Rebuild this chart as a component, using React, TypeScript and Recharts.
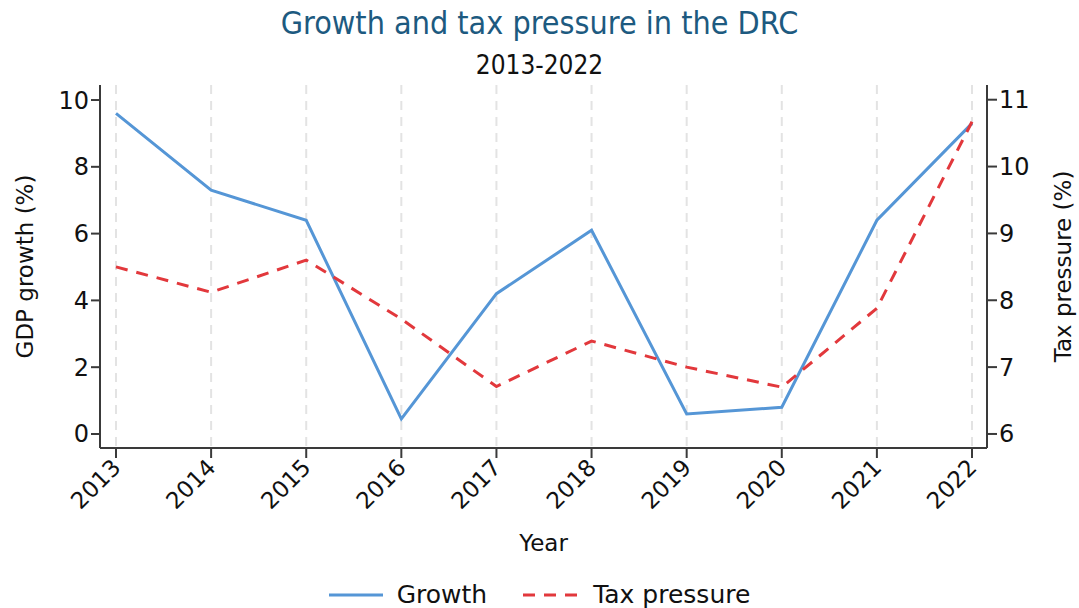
import {
  CartesianGrid,
  Legend,
  Line,
  LineChart,
  XAxis,
  YAxis,
} from 'recharts'

const YEARS = [2013, 2014, 2015, 2016, 2017, 2018, 2019, 2020, 2021, 2022]
const GROWTH = [9.6, 7.3, 6.4, 0.45, 4.2, 6.1, 0.6, 0.8, 6.4, 9.3]
const TAX_PRESSURE = [8.5, 8.12, 8.6, 7.72, 6.71, 7.39, 7.0, 6.7, 7.88, 10.67]
const LEFT_TICKS = [0, 2, 4, 6, 8, 10]
const RIGHT_TICKS = [6, 7, 8, 9, 10, 11]

const data = YEARS.map((year, i) => ({
  year,
  growth: GROWTH[i],
  tax: TAX_PRESSURE[i],
}))

const FONT = '"DejaVu Sans", sans-serif'
const COND = '"DejaVu Sans Condensed", "DejaVu Sans", sans-serif'
const AXIS_COLOR = '#3a3a3a'
const BLUE = '#5596d6'
const RED = '#e2383c'

type TickProps = { x?: number; y?: number; payload?: { value: number } }

function YearTick({ x = 0, y = 0, payload }: TickProps) {
  return (
    <g transform={`translate(${x + 6},${y + 9}) rotate(-45)`}>
      <text
        x={0}
        y={0}
        textAnchor="end"
        fontSize={23}
        fontFamily={FONT}
        fill="#111"
      >
        {payload?.value}
      </text>
    </g>
  )
}

function LegendContent() {
  return (
    <div
      style={{
        display: 'flex',
        justifyContent: 'center',
        alignItems: 'center',
        gap: 14,
        fontFamily: FONT,
        fontSize: 25,
        lineHeight: '24px',
        color: '#111',
      }}
    >
      <svg width={54} height={10}>
        <line x1={0} y1={5} x2={54} y2={5} stroke={BLUE} strokeWidth={3} />
      </svg>
      <span style={{ marginRight: 22 }}>Growth</span>
      <svg width={56} height={10}>
        <line
          x1={0}
          y1={5}
          x2={56}
          y2={5}
          stroke={RED}
          strokeWidth={3}
          strokeDasharray="12 9"
        />
      </svg>
      <span>Tax pressure</span>
    </div>
  )
}

export default function App() {
  return (
    <div
      style={{
        position: 'absolute',
        left: 0,
        top: 0,
        width: 1079,
        height: 608,
        overflow: 'hidden',
        background: '#fff',
      }}
    >
      <div
        style={{
          position: 'absolute',
          top: 4,
          width: 1079,
          textAlign: 'center',
          fontFamily: COND,
          color: '#1d5a80',
          fontSize: 32,
        }}
      >
        Growth and tax pressure in the DRC
      </div>
      <div
        style={{
          position: 'absolute',
          top: 50,
          width: 1079,
          textAlign: 'center',
          fontFamily: COND,
          color: '#111',
          fontSize: 26,
        }}
      >
        2013-2022
      </div>
      <LineChart
        width={1079}
        height={608}
        data={data}
        margin={{ top: 85, right: 0, bottom: 0, left: 0 }}
      >
        <CartesianGrid
          horizontal={false}
          stroke="#e3e3e3"
          strokeWidth={2}
          strokeDasharray="9 7"
        />
        <XAxis
          dataKey="year"
          type="number"
          domain={[2013, 2022]}
          ticks={YEARS}
          padding={{ left: 16, right: 15 }}
          height={123}
          stroke={AXIS_COLOR}
          strokeWidth={2}
          tickSize={10}
          tick={<YearTick />}
          label={{
            value: 'Year',
            position: 'insideBottom',
            offset: 20,
            fontSize: 23,
            fontFamily: FONT,
            fill: '#111',
          }}
        />
        <YAxis
          yAxisId="left"
          width={100}
          domain={[-0.42, 10.45]}
          ticks={LEFT_TICKS}
          allowDataOverflow
          stroke={AXIS_COLOR}
          strokeWidth={2}
          tickSize={9}
          tick={{ fontSize: 24, fontFamily: FONT, fill: '#111' }}
          label={{
            value: 'GDP growth (%)',
            angle: -90,
            position: 'insideLeft',
            offset: 25,
            style: { textAnchor: 'middle' },
            fontSize: 23,
            fontFamily: FONT,
            fill: '#111',
          }}
        />
        <YAxis
          yAxisId="right"
          orientation="right"
          width={92}
          domain={[5.79, 11.22]}
          ticks={RIGHT_TICKS}
          allowDataOverflow
          stroke={AXIS_COLOR}
          strokeWidth={2}
          tickSize={10}
          tick={{ fontSize: 24, fontFamily: FONT, fill: '#111' }}
          label={{
            value: 'Tax pressure (%)',
            angle: -90,
            position: 'insideRight',
            offset: 16,
            style: { textAnchor: 'middle' },
            fontSize: 23,
            fontFamily: FONT,
            fill: '#111',
          }}
        />
        <Legend
          verticalAlign="bottom"
          height={37}
          wrapperStyle={{ bottom: -12 }}
          content={<LegendContent />}
        />
        <Line
          yAxisId="left"
          dataKey="growth"
          stroke={BLUE}
          strokeWidth={3}
          dot={false}
          isAnimationActive={false}
        />
        <Line
          yAxisId="right"
          dataKey="tax"
          stroke={RED}
          strokeWidth={3}
          strokeDasharray="12 9"
          dot={false}
          isAnimationActive={false}
        />
      </LineChart>
    </div>
  )
}
